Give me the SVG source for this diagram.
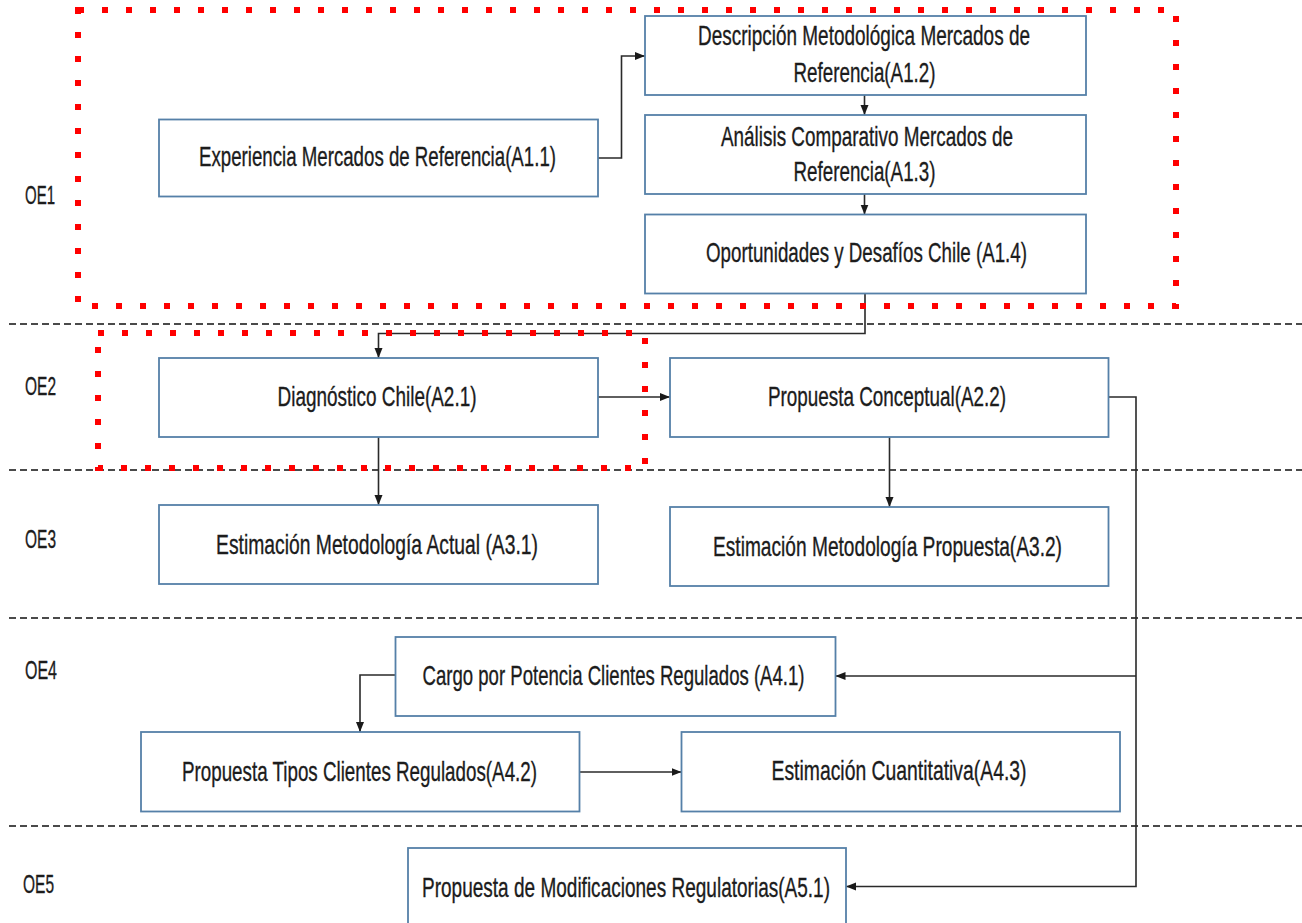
<svg xmlns="http://www.w3.org/2000/svg" width="1302" height="923" viewBox="0 0 1302 923">
<defs>
<marker id="ah" markerUnits="userSpaceOnUse" markerWidth="10" markerHeight="10" viewBox="0 0 10 10" refX="10" refY="5" orient="auto">
<path d="M0,1 L10,5 L0,9 Z" fill="#1a1a1a"/>
</marker>
<style>
.box{fill:#ffffff;stroke:#5580a8;stroke-width:1.8}
.t{font-family:"Liberation Sans",Arial,sans-serif;font-size:28px;fill:#1c1c1c;stroke:#1c1c1c;stroke-width:0.35;text-anchor:middle}
.lab{font-family:"Liberation Sans",Arial,sans-serif;font-size:25px;fill:#1c1c1c;stroke:#1c1c1c;stroke-width:0.35}
.sep{stroke:#4a4a4a;stroke-width:1.8;stroke-dasharray:7 4;fill:none}
.red{fill:none;stroke:#ff0000;stroke-width:6;stroke-dasharray:6 18}
.ca{fill:none;stroke:#2a2a2a;stroke-width:1.6;marker-end:url(#ah)}
</style>
</defs>
<rect width="1302" height="923" fill="#ffffff"/>
<g id="separators">
<line class="sep" x1="9" y1="324" x2="1302" y2="324"/>
<line class="sep" x1="9" y1="470" x2="1302" y2="470"/>
<line class="sep" x1="9" y1="618" x2="1302" y2="618"/>
<line class="sep" x1="9" y1="826" x2="1302" y2="826"/>
</g>
<g id="labels">
<text class="lab" x="25" y="204" textLength="30" lengthAdjust="spacingAndGlyphs">OE1</text>
<text class="lab" x="25" y="395" textLength="31" lengthAdjust="spacingAndGlyphs">OE2</text>
<text class="lab" x="25" y="548" textLength="31" lengthAdjust="spacingAndGlyphs">OE3</text>
<text class="lab" x="25" y="679" textLength="32" lengthAdjust="spacingAndGlyphs">OE4</text>
<text class="lab" x="23" y="893" textLength="31" lengthAdjust="spacingAndGlyphs">OE5</text>
</g>
<g id="connectors">
<path class="ca" d="M598,158 H621.5 V56 H645"/>
<path class="ca" d="M864.5,95 V115"/>
<path class="ca" d="M864.5,194 V214.5"/>
<path class="ca" d="M865,293.5 V333.5 H378.5 V358"/>
<path class="ca" d="M378.5,437 V505"/>
<path class="ca" d="M598,397 H670"/>
<path class="ca" d="M889.5,437 V507"/>
<path class="ca" d="M1108.5,397 H1136 V886.5 H846"/>
<path class="ca" d="M1136,676 H835.5"/>
<path class="ca" d="M395.5,675 H360 V732"/>
<path class="ca" d="M579.5,772 H681.5"/>
</g>
<g id="A1.1">
<rect class="box" x="159" y="119.5" width="439" height="77"/>
<text class="t" x="377.5" y="166" textLength="357" lengthAdjust="spacingAndGlyphs">Experiencia Mercados de Referencia(A1.1)</text>
</g>
<g id="A1.2">
<rect class="box" x="645" y="16" width="441" height="79"/>
<text class="t" x="864" y="45" textLength="332" lengthAdjust="spacingAndGlyphs">Descripción Metodológica Mercados de</text>
<text class="t" x="864.5" y="82" textLength="142" lengthAdjust="spacingAndGlyphs">Referencia(A1.2)</text>
</g>
<g id="A1.3">
<rect class="box" x="645" y="115" width="441" height="79"/>
<text class="t" x="867" y="146" textLength="292" lengthAdjust="spacingAndGlyphs">Análisis Comparativo Mercados de</text>
<text class="t" x="864.5" y="181" textLength="142" lengthAdjust="spacingAndGlyphs">Referencia(A1.3)</text>
</g>
<g id="A1.4">
<rect class="box" x="645" y="214.5" width="441" height="79"/>
<text class="t" x="866.5" y="262" textLength="321" lengthAdjust="spacingAndGlyphs">Oportunidades y Desafíos Chile (A1.4)</text>
</g>
<g id="A2.1">
<rect class="box" x="159" y="358" width="439" height="79"/>
<text class="t" x="377" y="406" textLength="199" lengthAdjust="spacingAndGlyphs">Diagnóstico Chile(A2.1)</text>
</g>
<g id="A2.2">
<rect class="box" x="670" y="358" width="438.5" height="79"/>
<text class="t" x="887" y="406" textLength="238" lengthAdjust="spacingAndGlyphs">Propuesta Conceptual(A2.2)</text>
</g>
<g id="A3.1">
<rect class="box" x="159" y="505" width="439" height="79"/>
<text class="t" x="377" y="554" textLength="322" lengthAdjust="spacingAndGlyphs">Estimación Metodología Actual (A3.1)</text>
</g>
<g id="A3.2">
<rect class="box" x="670" y="507" width="438.5" height="79"/>
<text class="t" x="887.5" y="556" textLength="349" lengthAdjust="spacingAndGlyphs">Estimación Metodología Propuesta(A3.2)</text>
</g>
<g id="A4.1">
<rect class="box" x="395.5" y="637" width="440" height="79"/>
<text class="t" x="613.5" y="685" textLength="382" lengthAdjust="spacingAndGlyphs">Cargo por Potencia Clientes Regulados (A4.1)</text>
</g>
<g id="A4.2">
<rect class="box" x="141" y="732" width="438.5" height="79.5"/>
<text class="t" x="359.5" y="781" textLength="355" lengthAdjust="spacingAndGlyphs">Propuesta Tipos Clientes Regulados(A4.2)</text>
</g>
<g id="A4.3">
<rect class="box" x="681.5" y="732" width="438.5" height="79.5"/>
<text class="t" x="899" y="780" textLength="255" lengthAdjust="spacingAndGlyphs">Estimación Cuantitativa(A4.3)</text>
</g>
<g id="A5.1">
<rect class="box" x="408" y="848" width="438" height="90"/>
<text class="t" x="626" y="897" textLength="408" lengthAdjust="spacingAndGlyphs">Propuesta de Modificaciones Regulatorias(A5.1)</text>
</g>
<g id="highlights">
<rect class="red" x="78" y="10" width="1098" height="296"/>
<rect class="red" x="98" y="333" width="547" height="135"/>
</g>
</svg>
